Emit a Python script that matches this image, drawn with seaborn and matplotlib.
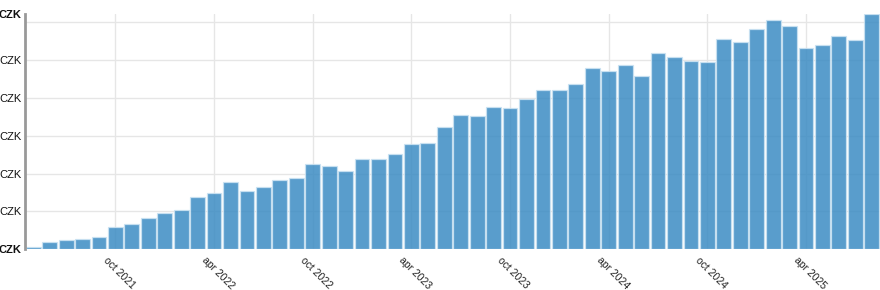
import matplotlib
matplotlib.use("Agg")
import matplotlib.pyplot as plt
import matplotlib.transforms as mtransforms
import seaborn as sns
import pandas as pd

months = pd.date_range("2021-05-01", "2025-08-01", freq="MS").strftime("%Y-%m").tolist()
values = [0.06, 0.20, 0.25, 0.27, 0.32, 0.59, 0.66, 0.83, 0.97, 1.04,
          1.39, 1.49, 1.77, 1.55, 1.64, 1.83, 1.88, 2.26, 2.21, 2.07,
          2.39, 2.38, 2.51, 2.79, 2.81, 3.22, 3.55, 3.53, 3.75, 3.74,
          3.97, 4.22, 4.21, 4.37, 4.79, 4.72, 4.87, 4.57, 5.19, 5.09,
          4.98, 4.94, 5.56, 5.48, 5.82, 6.07, 5.89, 5.31, 5.40, 5.64,
          5.53, 6.22]
xtick_months = ["2021-10", "2022-04", "2022-10", "2023-04", "2023-10",
                "2024-04", "2024-10", "2025-04"]
xtick_labels = ["oct 2021", "apr 2022", "oct 2022", "apr 2023", "oct 2023",
                "apr 2024", "oct 2024", "apr 2025"]
ytick_values = [0, 1, 2, 3, 4, 5, 6]
ytick_label = "CZK"

df = pd.DataFrame({"month": months, "value": values})

sns.set_style("white")
plt.rcParams["font.family"] = ["Liberation Sans", "DejaVu Sans"]

fig = plt.figure(figsize=(8.8, 2.9), dpi=100)
ax = fig.add_axes([25 / 880, 40.7 / 290, 855 / 880, (249.3 - 14) / 290])

sns.barplot(data=df, x="month", y="value", order=months, ax=ax,
            color=(60 / 255, 140 / 255, 195 / 255), saturation=1, alpha=0.85,
            width=0.9, edgecolor=(0.80, 0.89, 0.95), linewidth=0.9, zorder=2)

ymax = max(values)
ax.set_xlim(-0.5, len(months) - 0.5)
ax.set_ylim(0, ymax)

# gridlines
for v in ytick_values[1:]:
    ax.axhline(v, color="#e6e6e6", lw=1, zorder=0)
xpos = [months.index(m) for m in xtick_months]
for p in xpos:
    ax.axvline(p, color="#e6e6e6", lw=1, zorder=0)

yt = ytick_values + [ymax]
ax.set_yticks(yt)
ylabs = [ytick_label] * 6 + ["", ytick_label]
ax.set_yticklabels(ylabs, fontsize=8)
for i, t in enumerate(ax.get_yticklabels()):
    if i == 0 or i == len(yt) - 1:
        t.set_fontweight("bold")
ax.tick_params(axis="y", length=0, pad=2.5, colors="#111111")

ax.set_xticks(xpos)
ax.set_xticklabels(xtick_labels, rotation=-45, ha="left", va="top",
                   rotation_mode="anchor", fontsize=7.5)
ax.tick_params(axis="x", length=0, pad=4.3, colors="#222222")
offset = mtransforms.ScaledTranslation(-0.07, 0, fig.dpi_scale_trans)
for t in ax.get_xticklabels():
    t.set_transform(t.get_transform() + offset)

ax.set_xlabel("")
ax.set_ylabel("")
for s in ["top", "right", "bottom"]:
    ax.spines[s].set_visible(False)
ax.spines["left"].set_color("#999999")
ax.spines["left"].set_linewidth(2)

fig.savefig("out.png", dpi=100)
